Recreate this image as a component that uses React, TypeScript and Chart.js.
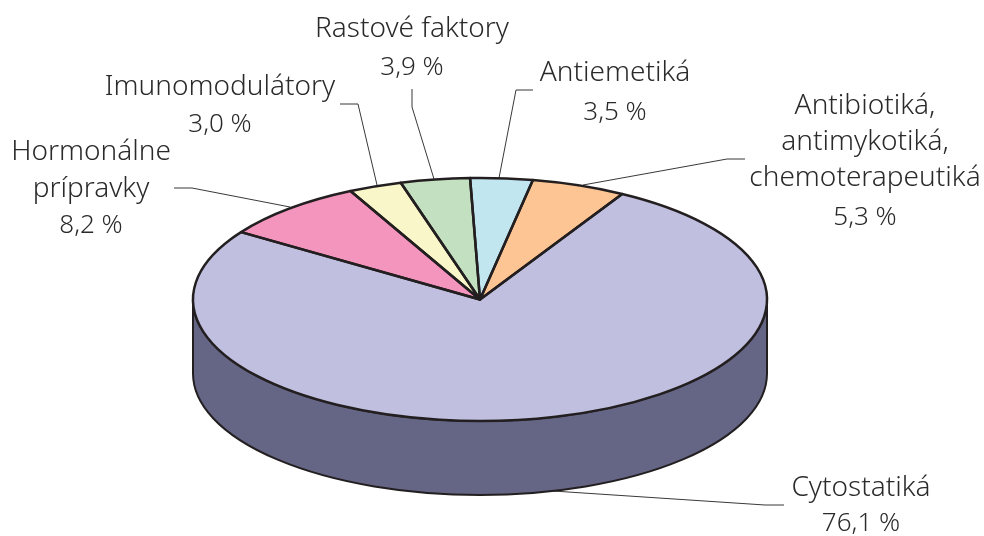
import React, { useEffect, useRef } from "react";
import { Chart, registerables } from "chart.js";

Chart.register(...registerables);

const categories = [
  "Cytostatiká",
  "Hormonálne prípravky",
  "Imunomodulátory",
  "Rastové faktory",
  "Antiemetiká",
  "Antibiotiká, antimykotiká, chemoterapeutiká",
];
const shares = [76.1, 8.2, 3.0, 3.9, 3.5, 5.3];
const topColors = ["#c0bfdf", "#f495bd", "#f9f7c9", "#c3e1c1", "#c2e6f0", "#fdc593"];
const sideColors = ["#656585", "#a0567a", "#a6a47a", "#7a9a78", "#7a9ca6", "#b08050"];

const labelBlocks: { x: number; lines: [string, number][] }[] = [
  { x: 412, lines: [["Rastové faktory", 37], ["3,9 %", 75]] },
  { x: 220, lines: [["Imunomodulátory", 95], ["3,0 %", 132]] },
  { x: 91, lines: [["Hormonálne", 160], ["prípravky", 197], ["8,2 %", 233]] },
  { x: 615, lines: [["Antiemetiká", 81], ["3,5 %", 120]] },
  { x: 865, lines: [["Antibiotiká,", 114], ["antimykotiká,", 150], ["chemoterapeutiká", 186], ["5,3 %", 225]] },
  { x: 861, lines: [["Cytostatiká", 496], ["76,1 %", 531]] },
];
const leaders: number[][] = [
  [340, 104, 358, 104, 377, 185],
  [412, 89, 412, 107, 434, 179],
  [174, 188, 192, 188, 290, 207],
  [533, 90, 516, 90, 499, 178],
  [745, 159, 727, 159, 583, 185],
  [784, 505, 765, 505, 553, 491],
];

const RX = 287;
const RY = 121.5;
const DEPTH = 74;
const INK = "#231f20";

const pie3d = {
  id: "pie3d",
  beforeDatasetsDraw(chart: any) {
    const ctx = chart.ctx;
    const arcs = chart.getDatasetMeta(0).data;
    const { x: cx, y: cy, outerRadius: R } = arcs[0];
    ctx.save();
    ctx.strokeStyle = "#3a3838";
    ctx.lineWidth = 1;
    leaders.forEach((p) => {
      ctx.beginPath();
      ctx.moveTo(p[0], p[1]);
      for (let i = 2; i < p.length; i += 2) ctx.lineTo(p[i], p[i + 1]);
      ctx.stroke();
    });
    arcs.forEach((a: any, i: number) => {
      const s = Math.max(a.startAngle, 0);
      const e = Math.min(a.endAngle, Math.PI);
      if (e <= s) return;
      ctx.beginPath();
      ctx.ellipse(cx, cy, RX, RY, 0, s, e);
      ctx.ellipse(cx, cy + DEPTH, RX, RY, 0, e, s, true);
      ctx.closePath();
      ctx.fillStyle = sideColors[i];
      ctx.fill();
      ctx.strokeStyle = INK;
      ctx.lineWidth = 2;
      ctx.stroke();
    });
    ctx.restore();
    ctx.save();
    ctx.translate(cx, cy);
    ctx.scale(RX / R, RY / R);
    ctx.translate(-cx, -cy);
  },
  afterDatasetsDraw(chart: any) {
    const ctx = chart.ctx;
    ctx.restore();
    const arcs = chart.getDatasetMeta(0).data;
    const { x: cx, y: cy } = arcs[0];
    ctx.save();
    ctx.strokeStyle = INK;
    ctx.lineWidth = 2.5;
    ctx.lineJoin = "round";
    arcs.forEach((a: any) => {
      ctx.beginPath();
      ctx.moveTo(cx, cy);
      ctx.ellipse(cx, cy, RX, RY, 0, a.startAngle, a.endAngle);
      ctx.closePath();
      ctx.stroke();
    });
    ctx.fillStyle = "#2b2a2a";
    ctx.textAlign = "center";
    ctx.textBaseline = "alphabetic";
    labelBlocks.forEach((b) => {
      b.lines.forEach(([t, y]) => {
        ctx.font = t.endsWith("%") ? '300 26px "Noto Sans"' : '300 28px "Noto Sans"';
        ctx.fillText(t, b.x, y);
      });
    });
    ctx.restore();
  },
};

export default function App() {
  const ref = useRef<HTMLCanvasElement>(null);
  useEffect(() => {
    const chart = new Chart(ref.current!, {
      type: "pie",
      data: {
        labels: categories,
        datasets: [{ data: shares, backgroundColor: topColors, borderWidth: 0 }],
      },
      options: {
        animation: false,
        responsive: false,
        rotation: 29.7,
        layout: { padding: { left: 0, right: 24, top: 63, bottom: 0 } },
        plugins: { legend: { display: false }, tooltip: { enabled: false } },
      },
      plugins: [pie3d],
    } as any);
    return () => chart.destroy();
  }, []);
  return (
    <div style={{ position: "absolute", left: 0, top: 0, background: "#fff" }}>
      <canvas ref={ref} width={984} height={536} style={{ display: "block" }} />
    </div>
  );
}
